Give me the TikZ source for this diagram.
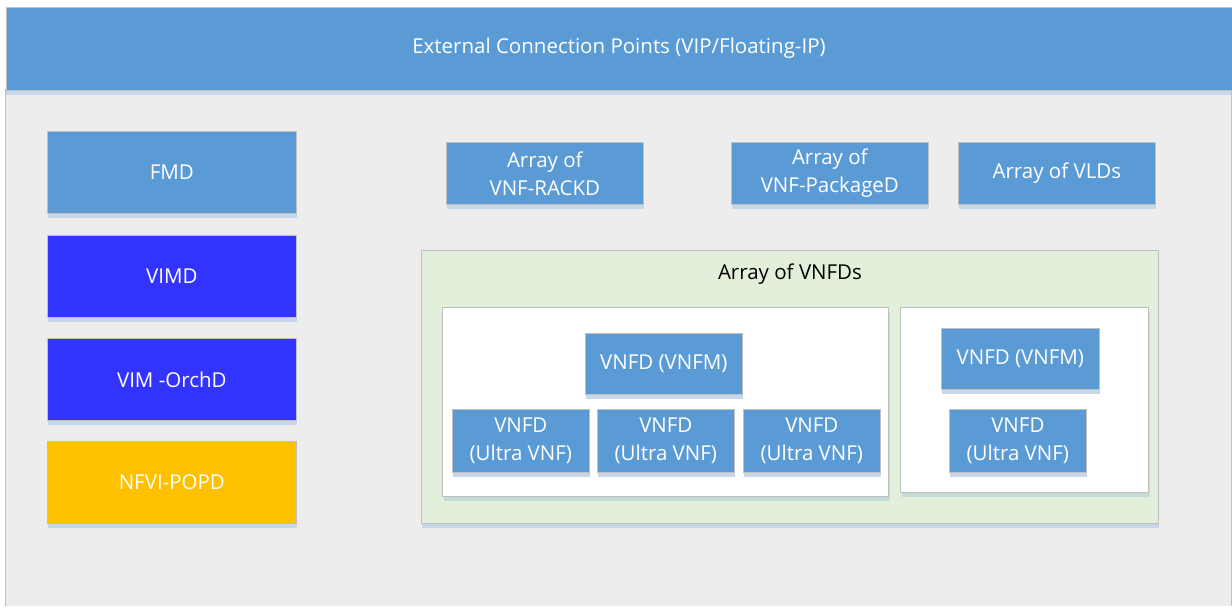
\documentclass[tikz,border=0pt]{standalone}
\usepackage{fontspec}
\setmainfont{Open Sans}
\usetikzlibrary{shadows}
\definecolor{topblue}{HTML}{5B9BD5}
\definecolor{vimblue}{HTML}{3333FF}
\definecolor{popgold}{HTML}{FFC000}
\definecolor{bggray}{HTML}{EDEDED}
\definecolor{greenbg}{HTML}{E2EFDA}
\definecolor{shadowc}{HTML}{C6D7EA}
\definecolor{wshadow}{HTML}{C4DCD8}
\definecolor{edgec}{HTML}{C0C0C0}
\newcommand{\diafont}{\fontsize{20.5}{28}\selectfont}
\tikzset{
  box/.style={draw=edgec, line width=0.7pt, fill=topblue, text=white, anchor=north west,
    inner sep=0pt, align=center, font=\diafont,
    general shadow={fill=shadowc, shadow xshift=1pt, shadow yshift=-5pt}},
  whitebox/.style={draw=edgec, line width=0.7pt, fill=white, anchor=north west, inner sep=0pt,
    general shadow={fill=wshadow, shadow xshift=1.5pt, shadow yshift=-5pt}},
  container/.style={draw=edgec, line width=0.7pt, fill=greenbg, anchor=north west, inner sep=0pt,
    general shadow={fill=shadowc, shadow xshift=1pt, shadow yshift=-5pt}},
  lbl/.style={font=\diafont, text=black, inner sep=0pt}
}
\begin{document}
\begin{tikzpicture}[x=1pt,y=-1pt]
\useasboundingbox (0,0) rectangle (1232,606);
\fill[white] (0,0) rectangle (1232,606);
% background
\fill[bggray] (6,89) rectangle (1232,606);
\draw[edgec, line width=1pt] (5.5,89) -- (5.5,606);
\draw[edgec, line width=1pt] (1231.5,89) -- (1231.5,606);
\fill[shadowc] (6,89) rectangle (1231,95);
% top bar
\node[draw=edgec, line width=1pt, fill=topblue, anchor=north west, inner sep=0pt,
  minimum width=1226pt, minimum height=83pt, text=white, font=\diafont]
  (ext) at (5.5,6.5) {External Connection Points (VIP/Floating-IP)};
% left column
\node[box, minimum width=249pt, minimum height=82pt] (fmd) at (47,131) {FMD};
\node[box, fill=vimblue, minimum width=249pt, minimum height=82pt] (vimd) at (47,235) {VIMD};
\node[box, fill=vimblue, minimum width=249pt, minimum height=82pt] (vimorch) at (47,338) {VIM -OrchD};
\node[box, fill=popgold, minimum width=249pt, minimum height=82pt] (nfvi) at (47,441) {NFVI-POPD};
% top row
\node[box, minimum width=197pt, minimum height=62pt] (rack) at (446,142) {Array of\\VNF-RACKD};
\node[box, minimum width=197pt, minimum height=62pt] (pkg) at (731,142) {Array of\\VNF-PackageD};
\node[box, minimum width=197pt, minimum height=62pt] (vld) at (958,142) {Array of VLDs};
% container
\node[container, minimum width=737pt, minimum height=273pt] (vnfds) at (421,250) {};
\node[lbl] (vnfdstitle) at (790,274) {Array of VNFDs};
\node[whitebox, minimum width=446pt, minimum height=189pt] (grp1) at (442,307) {};
\node[whitebox, minimum width=248pt, minimum height=185pt] (grp2) at (900,307) {};
% group 1
\node[box, minimum width=157pt, minimum height=61pt] (vnfm1) at (585,333) {VNFD (VNFM)};
\node[box, minimum width=137pt, minimum height=63pt] (u1) at (452,409) {VNFD\\(Ultra VNF)};
\node[box, minimum width=137pt, minimum height=63pt] (u2) at (597,409) {VNFD\\(Ultra VNF)};
\node[box, minimum width=137pt, minimum height=63pt] (u3) at (743,409) {VNFD\\(Ultra VNF)};
% group 2
\node[box, minimum width=158pt, minimum height=61pt] (vnfm2) at (941,328) {VNFD (VNFM)};
\node[box, minimum width=137pt, minimum height=63pt] (u4) at (949,409) {VNFD\\(Ultra VNF)};
\end{tikzpicture}
\end{document}
